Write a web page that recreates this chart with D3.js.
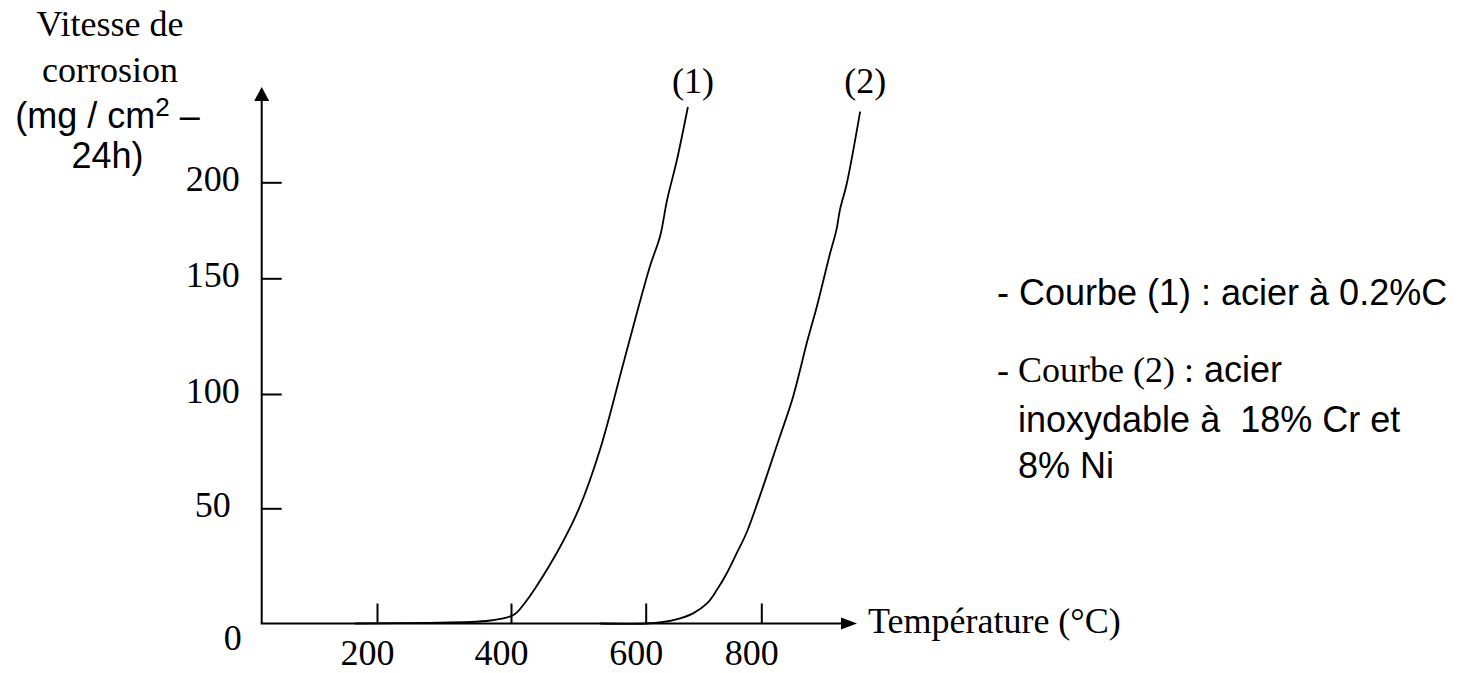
<!DOCTYPE html>
<html>
<head>
<meta charset="utf-8">
<script src="https://cdn.jsdelivr.net/npm/d3@7"></script>
<style>
  html, body { margin: 0; padding: 0; background: #fff; }
  svg { display: block; }
</style>
</head>
<body>
<svg id="chart" width="1480" height="673"></svg>
<script>
// ---- data ----
const xTicks = [200, 400, 600, 800];
const yTicks = [50, 100, 150, 200];
const temp1 = [162, 279, 339, 369, 391, 406, 421, 436, 473, 502, 532, 569, 607, 625, 637, 654, 673];
const rate1 = [0, 0.3, 0.65, 1.3, 2.4, 4.1, 9.1, 15.3, 33.3, 50.6, 75.5, 115.6, 155.9, 172, 190.8, 211.6, 239.2];
const temp2 = [532, 602, 648, 682, 706, 723, 740, 757, 775, 832, 855, 880, 896, 919, 930, 936, 948, 971];
const rate2 = [0, 0, 1.5, 4.4, 8.7, 14.5, 21.7, 30.3, 39.7, 81.3, 98.8, 123.3, 137.7, 163, 175.2, 185.6, 199.5, 236.8];
const curveLabels = ["(1)", "(2)"];

// ---- layout ----
const SERIF = "'Liberation Serif', 'Times New Roman', serif";
const SANS = "'Liberation Sans', Arial, sans-serif";
const FS = 36;
const svg = d3.select("#chart");

// hand-drawn axes: piecewise linear scales through the drawn tick marks
const x = d3.scaleLinear().domain([0, 200, 400, 600, 800]).range([261.7, 377, 511, 645.7, 761.3]);
const y = d3.scaleLinear().domain([0, 50, 100, 150, 200]).range([623.5, 508.3, 394, 278.3, 182.3]);
const x0 = x(0), y0 = y(0);
const yTop = 87, xRight = 857;

// axes lines + arrowheads
svg.append("line").attr("x1", x0).attr("y1", y0).attr("x2", x0).attr("y2", yTop + 10)
  .attr("stroke", "#000").attr("stroke-width", 2);
svg.append("path").attr("d", `M${x0},${yTop} L${x0 - 7.5},${yTop + 14} L${x0 + 7.5},${yTop + 14} Z`).attr("fill", "#000");
svg.append("line").attr("x1", x0 - 1).attr("y1", y0).attr("x2", xRight - 10).attr("y2", y0)
  .attr("stroke", "#000").attr("stroke-width", 2);
svg.append("path").attr("d", `M${xRight},${y0} L${xRight - 16},${y0 - 6} L${xRight - 16},${y0 + 6} Z`).attr("fill", "#000");

// x axis ticks
const gx = svg.append("g").attr("transform", `translate(0,${y0})`)
  .call(d3.axisBottom(x).tickValues(xTicks).tickSize(-20).tickFormat(d3.format("d")));
gx.select(".domain").remove();
gx.selectAll(".tick line").attr("stroke", "#000").attr("stroke-width", 2);
gx.selectAll(".tick text").attr("y", 41.5).attr("dy", 0).attr("x", -10)
  .attr("font-family", SERIF).attr("font-size", FS).attr("fill", "#000");

// y axis ticks
const gy = svg.append("g").attr("transform", `translate(${x0},0)`)
  .call(d3.axisLeft(y).tickValues(yTicks).tickSize(-20).tickFormat(d3.format("d")));
gy.select(".domain").remove();
gy.selectAll(".tick line").attr("stroke", "#000").attr("stroke-width", 2);
gy.selectAll(".tick text").attr("x", -49).attr("dy", 0).attr("y", 8).attr("text-anchor", "middle")
  .attr("font-family", SERIF).attr("font-size", FS).attr("fill", "#000");

// origin label
svg.append("text").attr("x", 232.7).attr("y", 650).attr("text-anchor", "middle")
  .attr("font-family", SERIF).attr("font-size", FS).text("0");

// curves
const line = d3.line().x(d => x(d[0])).y(d => y(d[1])).curve(d3.curveCatmullRom.alpha(0.5));
const series = [d3.zip(temp1, rate1), d3.zip(temp2, rate2)];
series.forEach((s, i) => {
  svg.append("path").datum(s).attr("d", line).attr("fill", "none")
    .attr("stroke", "#000").attr("stroke-width", 1.8);
  const last = s[s.length - 1];
  svg.append("text").attr("x", x(last[0]) + 5).attr("y", 93).attr("text-anchor", "middle")
    .attr("font-family", SERIF).attr("font-size", FS).text(curveLabels[i]);
});

// axis titles
svg.append("text").attr("x", 868).attr("y", 633)
  .attr("font-family", SERIF).attr("font-size", FS).text("Température (°C)");

const yl = [
  { t: "Vitesse de", f: SERIF, y: 36 },
  { t: "corrosion", f: SERIF, y: 82 }
];
yl.forEach(d => svg.append("text").attr("x", 110).attr("y", d.y).attr("text-anchor", "middle")
  .attr("font-family", d.f).attr("font-size", FS).text(d.t));
const t3 = svg.append("text").attr("x", 107.5).attr("y", 128).attr("text-anchor", "middle")
  .attr("font-family", SANS).attr("font-size", FS);
t3.append("tspan").text("(mg / cm");
t3.append("tspan").attr("font-size", 26).attr("dy", -12).text("2");
t3.append("tspan").attr("dy", 12).text(" –");
svg.append("text").attr("x", 107.5).attr("y", 168).attr("text-anchor", "middle")
  .attr("font-family", SANS).attr("font-size", FS).text("24h)");

// legend text
svg.append("text").attr("x", 997).attr("y", 305).attr("font-family", SANS).attr("font-size", FS)
  .text("- Courbe (1) : acier à 0.2%C");
const l2 = svg.append("text").attr("x", 997).attr("y", 382).attr("font-size", FS).attr("xml:space", "preserve");
l2.append("tspan").attr("font-family", SERIF).text("- Courbe (2) :");
l2.append("tspan").attr("font-family", SANS).text(" acier");
svg.append("text").attr("x", 1018).attr("y", 432).attr("font-family", SANS).attr("font-size", FS)
  .attr("xml:space", "preserve").text("inoxydable à  18% Cr et");
svg.append("text").attr("x", 1018).attr("y", 478).attr("font-family", SANS).attr("font-size", FS)
  .text("8% Ni");
</script>
</body>
</html>
